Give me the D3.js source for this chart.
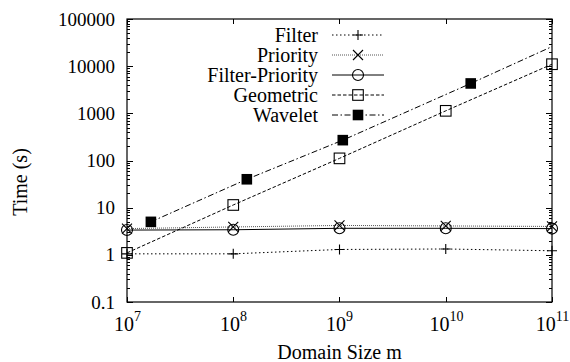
<!DOCTYPE html>
<html>
<head>
<meta charset="utf-8">
<script src="https://cdn.jsdelivr.net/npm/d3@7"></script>
<style>
  body { margin: 0; background: #fff; }
  svg text { font-family: "Liberation Serif", "Times New Roman", serif; fill: #000; }
</style>
</head>
<body>
<svg id="chart" width="570" height="362"></svg>
<script>
// domain sizes m
const domainSizes = [1e7, 1e8, 1e9, 1e10, 1e11];
const waveletSizes = [2 ** 24, 2 ** 27, 2 ** 30, 2 ** 34, 2 ** 37];

// times in seconds
const filterTimes = [1.05, 1.05, 1.3, 1.33, 1.22];
const priorityTimes = [3.6, 3.9, 4.2, 4.1, 4.0];
const filterPriorityTimes = [3.35, 3.4, 3.65, 3.65, 3.6];
const geometricTimes = [1.1, 11.4, 111, 1130, 11000];
const waveletTimes = [5.0, 40, 270, 4300, 36000];

const seriesNames = ["Filter", "Priority", "Filter-Priority", "Geometric", "Wavelet"];
const yTickValues = [0.1, 1, 10, 100, 1000, 10000, 100000];
const xTickExponents = [7, 8, 9, 10, 11];

const svg = d3.select("#chart"),
    margin = { top: 19, right: 18, bottom: 60, left: 127 },
    width = 570,
    height = 362;

const x = d3.scaleLog().domain([1e7, 1e11]).range([margin.left, width - margin.right]);
const y = d3.scaleLog().domain([0.1, 100000]).range([height - margin.bottom, margin.top]);

const series = [
    { name: seriesNames[0], xs: domainSizes, ys: filterTimes, dash: "1.5,2.5", stroke: "#000", width: 1, marker: "plus" },
    { name: seriesNames[1], xs: domainSizes, ys: priorityTimes, dash: "1,1", stroke: "#555", width: 1, marker: "cross" },
    { name: seriesNames[2], xs: domainSizes, ys: filterPriorityTimes, dash: null, stroke: "#000", width: 1, marker: "circle" },
    { name: seriesNames[3], xs: domainSizes, ys: geometricTimes, dash: "3.5,2", stroke: "#000", width: 1, marker: "square" },
    { name: seriesNames[4], xs: waveletSizes, ys: waveletTimes, dash: "6,2.5,1.5,2.5", stroke: "#000", width: 1, marker: "fsquare" }
];

svg.append("clipPath").attr("id", "plotclip")
    .append("rect")
    .attr("x", margin.left).attr("y", margin.top)
    .attr("width", width - margin.left - margin.right)
    .attr("height", height - margin.top - margin.bottom);

// ticks
const x0 = margin.left, x1 = width - margin.right, y0 = height - margin.bottom, y1 = margin.top;
const ticks = svg.append("g").attr("stroke", "#000").attr("stroke-width", 1);

yTickValues.forEach((v, i) => {
    const yy = Math.round(y(v)) + 0.5;
    ticks.append("line").attr("x1", x0).attr("x2", x0 + 6).attr("y1", yy).attr("y2", yy);
    ticks.append("line").attr("x1", x1).attr("x2", x1 - 6).attr("y1", yy).attr("y2", yy);
    if (i < yTickValues.length - 1) {
        for (let k = 2; k <= 9; k++) {
            const ym = Math.round(y(v * k)) + 0.5;
            ticks.append("line").attr("x1", x0).attr("x2", x0 + 3).attr("y1", ym).attr("y2", ym);
            ticks.append("line").attr("x1", x1).attr("x2", x1 - 3).attr("y1", ym).attr("y2", ym);
        }
    }
    svg.append("text")
        .attr("x", x0 - 12)
        .attr("y", y(v))
        .attr("dy", "0.35em")
        .attr("text-anchor", "end")
        .attr("font-size", 19)
        .text(v === 0.1 ? "0.1" : String(v));
});

xTickExponents.forEach(e => {
    const xx = Math.round(x(Math.pow(10, e))) + 0.5;
    ticks.append("line").attr("x1", xx).attr("x2", xx).attr("y1", y0).attr("y2", y0 - 5);
    ticks.append("line").attr("x1", xx).attr("x2", xx).attr("y1", y1).attr("y2", y1 + 5);
    const t = svg.append("text")
        .attr("x", xx)
        .attr("y", 331)
        .attr("text-anchor", "middle")
        .attr("font-size", 20);
    t.append("tspan").text("10");
    t.append("tspan").attr("dy", -10).attr("font-size", 14).text(e);
});

// lines
const line = d3.line().x(d => x(d[0])).y(d => y(d[1]));
const lines = svg.append("g").attr("clip-path", "url(#plotclip)");
series.forEach(s => {
    lines.append("path")
        .datum(s.xs.map((v, i) => [v, s.ys[i]]))
        .attr("fill", "none")
        .attr("stroke", s.stroke)
        .attr("stroke-width", s.width)
        .attr("stroke-dasharray", s.dash)
        .attr("d", line);
});

function drawMarker(g, type, cx, cy) {
    const r = 5;
    if (type === "plus") {
        g.append("path").attr("d", `M${cx - r},${cy}H${cx + r}M${cx},${cy - r}V${cy + r}`)
            .attr("stroke", "#000").attr("stroke-width", 1.1).attr("fill", "none");
    } else if (type === "cross") {
        g.append("path").attr("d", `M${cx - r},${cy - r}L${cx + r},${cy + r}M${cx - r},${cy + r}L${cx + r},${cy - r}`)
            .attr("stroke", "#000").attr("stroke-width", 1.1).attr("fill", "none");
    } else if (type === "circle") {
        g.append("circle").attr("cx", cx).attr("cy", cy).attr("r", 5.5)
            .attr("stroke", "#000").attr("stroke-width", 1.1).attr("fill", "none");
    } else if (type === "square") {
        g.append("rect").attr("x", cx - 5.3).attr("y", cy - 5.3).attr("width", 10.6).attr("height", 10.6)
            .attr("stroke", "#000").attr("stroke-width", 1.1).attr("fill", "none");
    } else if (type === "fsquare") {
        g.append("rect").attr("x", cx - 5.3).attr("y", cy - 5.3).attr("width", 10.6).attr("height", 10.6)
            .attr("fill", "#000");
    }
}

const markers = svg.append("g");
series.forEach(s => {
    s.xs.forEach((v, i) => {
        if (v > 1e11 * 1.001) return;
        drawMarker(markers, s.marker, x(v), y(s.ys[i]));
    });
});

// frame
svg.append("rect")
    .attr("x", x0).attr("y", y1)
    .attr("width", x1 - x0).attr("height", y0 - y1)
    .attr("fill", "none").attr("stroke", "#000").attr("stroke-width", 1.2);

// legend
const legend = svg.append("g");
series.forEach((s, i) => {
    const ly = 35 + i * 20;
    legend.append("text")
        .attr("x", 318).attr("y", ly).attr("dy", "0.35em")
        .attr("text-anchor", "end").attr("font-size", 20)
        .text(s.name);
    legend.append("line")
        .attr("x1", 332).attr("x2", 384).attr("y1", ly).attr("y2", ly)
        .attr("stroke", s.stroke).attr("stroke-width", s.width)
        .attr("stroke-dasharray", s.dash);
    drawMarker(legend, s.marker, 358, ly);
});

// axis titles
svg.append("text")
    .attr("x", (x0 + x1) / 2).attr("y", 359)
    .attr("text-anchor", "middle").attr("font-size", 20)
    .text("Domain Size m");

svg.append("text")
    .attr("transform", "translate(27,182) rotate(-90)")
    .attr("text-anchor", "middle").attr("font-size", 20)
    .text("Time (s)");
</script>
</body>
</html>
